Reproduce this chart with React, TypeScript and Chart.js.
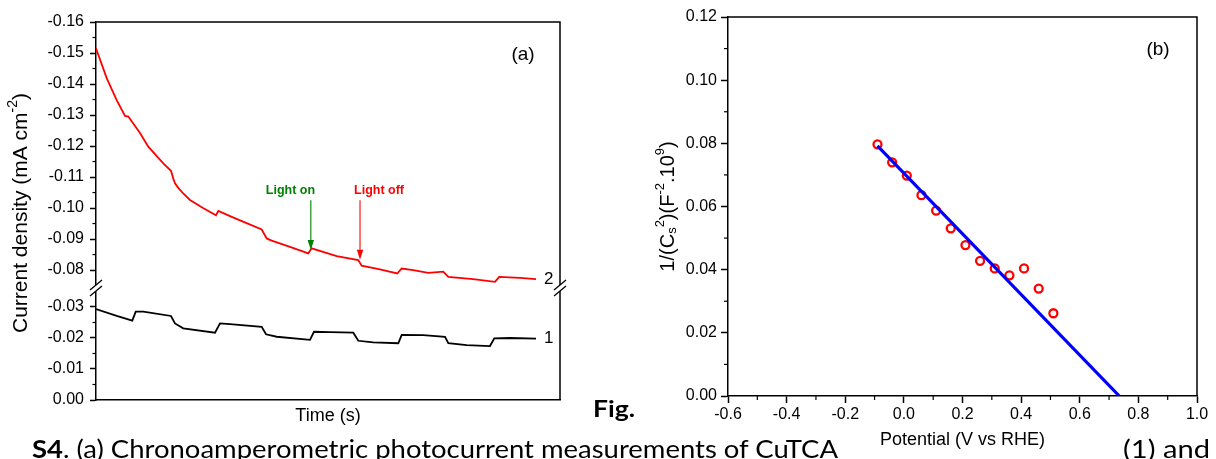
import React, { useEffect, useRef } from "react";
import { Chart, registerables } from "chart.js";

Chart.register(...registerables);

const FONT = "'Liberation Sans', Arial, Helvetica, sans-serif";

// ---------- Panel (a): chronoamperometric photocurrent ----------
const timeCurve2 = [0, 23, 44.6, 62.5, 69.6, 94.8, 112.7, 145, 161.6, 166.6, 170.2, 177.4, 188, 202.6, 230.6, 258.6, 263.6, 288.8, 316.8, 357.1, 367.9, 378.6, 418.1, 457.5, 464.8, 489.2, 518.7, 565.2, 572.5, 612, 649.3, 658.8, 683.8, 716.1, 748.4, 759.2, 813, 859.8, 869, 913.8, 948.3];
const currentCurve2 = [-0.1515, -0.1419, -0.1348, -0.1297, -0.1295, -0.1242, -0.1198, -0.1144, -0.112, -0.1095, -0.108, -0.1065, -0.1047, -0.1026, -0.1, -0.0977, -0.0991, -0.0974, -0.0956, -0.0931, -0.0902, -0.0895, -0.0875, -0.0854, -0.087, -0.0859, -0.0845, -0.0832, -0.0814, -0.0802, -0.0789, -0.0805, -0.08, -0.0791, -0.0795, -0.0778, -0.0771, -0.0762, -0.0778, -0.0775, -0.0771];
const timeCurve1 = [0, 44.6, 78.2, 85.6, 101.9, 161.6, 170.2, 188.1, 256.5, 267.2, 288.8, 357.1, 366.4, 389.4, 461.2, 469.8, 504.3, 554.5, 565.3, 597.6, 651.5, 658.8, 705.4, 752.2, 759.3, 798.9, 849.1, 858.4, 892.2, 948.3];
const currentCurve1 = [-0.0293, -0.0271, -0.0256, -0.0285, -0.0285, -0.0271, -0.0247, -0.0231, -0.0217, -0.0247, -0.0245, -0.0236, -0.0212, -0.0204, -0.0194, -0.022, -0.0219, -0.0217, -0.0191, -0.0186, -0.0183, -0.021, -0.0209, -0.0204, -0.0183, -0.0177, -0.0174, -0.0199, -0.02, -0.0198];
const curveLabels = ["2", "1"];
const yTicksA = [0, -0.01, -0.02, -0.03, -0.08, -0.09, -0.1, -0.11, -0.12, -0.13, -0.14, -0.15, -0.16];
const yMinorTicksA = [-0.005, -0.015, -0.025, -0.085, -0.095, -0.105, -0.115, -0.125, -0.135, -0.145, -0.155];
const timeMax = 1000;
const AXIS_GAP = 0.0381; // removed span of the broken axis
const BREAK_SPLIT = -0.055;
const BREAK_MARK = 0.0361; // axis position of the break symbol
const toAxisA = (v: number) => (v < BREAK_SPLIT ? -v - AXIS_GAP : -v);

const annotLabels = ["Light on", "Light off"];
const annotColors = ["#008000", "#ff0000"];
const annotTextTime = [419, 610];
const annotArrowTime = [463, 569];
const annotTipValue = [-0.0865, -0.0833];
const annotTailValue = -0.1025;
const annotTextValue = -0.1058;

// ---------- Panel (b): Mott-Schottky ----------
const potential = [-0.09, -0.04, 0.01, 0.06, 0.11, 0.16, 0.21, 0.26, 0.31, 0.36, 0.41, 0.46, 0.51];
const invCs2 = [0.0797, 0.074, 0.0698, 0.0636, 0.0587, 0.0531, 0.0478, 0.0428, 0.0404, 0.0382, 0.0404, 0.034, 0.0262];
const fitPotential = [-0.09, 0.735];
const fitInvCs2 = [0.0792, 0.0];
const xMinorB = [-0.5, -0.3, -0.1, 0.1, 0.3, 0.5, 0.7, 0.9];
const yMinorB = [0.01, 0.03, 0.05, 0.07, 0.09, 0.11];

type Seg = [string, number]; // 0 normal, 1 superscript, 2 subscript

function drawRich(ctx: CanvasRenderingContext2D, segs: Seg[], cx: number, cy: number, base: number, rotate: boolean) {
  const small = Math.round(base * 0.65);
  const fBig = `${base}px ${FONT}`;
  const fSmall = `${small}px ${FONT}`;
  let total = 0;
  const widths = segs.map(([t, k]) => {
    ctx.font = k ? fSmall : fBig;
    const w = ctx.measureText(t).width;
    total += w;
    return w;
  });
  ctx.save();
  ctx.translate(cx, cy);
  if (rotate) ctx.rotate(-Math.PI / 2);
  ctx.textBaseline = "middle";
  ctx.textAlign = "left";
  ctx.fillStyle = "#000";
  let x = -total / 2;
  segs.forEach(([t, k], i) => {
    ctx.font = k ? fSmall : fBig;
    const dy = k === 1 ? -base * 0.36 : k === 2 ? base * 0.24 : 0;
    ctx.fillText(t, x, dy);
    x += widths[i];
  });
  ctx.restore();
}

const panelAPlugin = {
  id: "panelA",
  afterDraw(chart: any) {
    const { ctx, chartArea: ca, scales } = chart;
    const x = scales.x;
    const y = scales.y;
    ctx.save();
    ctx.strokeStyle = "#000";
    ctx.lineWidth = 1.5;
    ctx.beginPath();
    ctx.moveTo(ca.left, ca.top);
    ctx.lineTo(ca.right, ca.top);
    ctx.lineTo(ca.right, ca.bottom);
    ctx.stroke();
    // minor ticks
    ctx.lineWidth = 1.2;
    yMinorTicksA.forEach((v) => {
      const py = y.getPixelForValue(toAxisA(v));
      ctx.beginPath();
      ctx.moveTo(ca.left - 3.5, py);
      ctx.lineTo(ca.left, py);
      ctx.stroke();
    });
    // axis break
    const by = y.getPixelForValue(BREAK_MARK);
    [ca.left, ca.right].forEach((bx: number) => {
      ctx.fillStyle = "#fff";
      ctx.fillRect(bx - 2, by - 3, 4, 6);
      ctx.strokeStyle = "#000";
      ctx.lineWidth = 1.3;
      ctx.beginPath();
      ctx.moveTo(bx - 6, by + 2);
      ctx.lineTo(bx + 6, by - 8);
      ctx.moveTo(bx - 6, by + 8);
      ctx.lineTo(bx + 6, by - 2);
      ctx.stroke();
    });
    // curve labels
    ctx.fillStyle = "#000";
    ctx.font = `17px ${FONT}`;
    ctx.textAlign = "left";
    ctx.textBaseline = "middle";
    const ends = [
      [timeCurve2[timeCurve2.length - 1], currentCurve2[currentCurve2.length - 1]],
      [timeCurve1[timeCurve1.length - 1], currentCurve1[currentCurve1.length - 1]],
    ];
    ends.forEach(([t, v], i) => {
      ctx.fillText(curveLabels[i], x.getPixelForValue(t) + 8, y.getPixelForValue(toAxisA(v)));
    });
    // panel label
    ctx.font = `19px ${FONT}`;
    ctx.textAlign = "center";
    ctx.fillText("(a)", ca.right - 37, ca.top + 33);
    // annotations
    annotLabels.forEach((lab, i) => {
      const c = annotColors[i];
      ctx.fillStyle = c;
      ctx.strokeStyle = c;
      ctx.font = `bold 12.5px ${FONT}`;
      ctx.textAlign = "center";
      ctx.fillText(lab, x.getPixelForValue(annotTextTime[i]), y.getPixelForValue(toAxisA(annotTextValue)));
      const ax = x.getPixelForValue(annotArrowTime[i]);
      const y0 = y.getPixelForValue(toAxisA(annotTailValue));
      const y1 = y.getPixelForValue(toAxisA(annotTipValue[i]));
      ctx.lineWidth = 1.1;
      ctx.beginPath();
      ctx.moveTo(ax, y0);
      ctx.lineTo(ax, y1 - 8);
      ctx.stroke();
      ctx.beginPath();
      ctx.moveTo(ax - 3.2, y1 - 10);
      ctx.lineTo(ax + 3.2, y1 - 10);
      ctx.lineTo(ax, y1);
      ctx.closePath();
      ctx.fill();
    });
    ctx.restore();
    drawRich(ctx, [["Current density (mA cm", 0], ["-2", 1], [")", 0]], 21, (ca.top + ca.bottom) / 2 + 2, 21, true);
  },
};

const panelBPlugin = {
  id: "panelB",
  afterDraw(chart: any) {
    const { ctx, chartArea: ca, scales } = chart;
    const x = scales.x;
    const y = scales.y;
    ctx.save();
    ctx.strokeStyle = "#000";
    ctx.lineWidth = 1.5;
    ctx.beginPath();
    ctx.moveTo(ca.left, ca.top);
    ctx.lineTo(ca.right, ca.top);
    ctx.lineTo(ca.right, ca.bottom);
    ctx.stroke();
    ctx.lineWidth = 1.2;
    xMinorB.forEach((v) => {
      const px = x.getPixelForValue(v);
      ctx.beginPath();
      ctx.moveTo(px, ca.bottom);
      ctx.lineTo(px, ca.bottom + 4);
      ctx.stroke();
    });
    yMinorB.forEach((v) => {
      const py = y.getPixelForValue(v);
      ctx.beginPath();
      ctx.moveTo(ca.left - 4, py);
      ctx.lineTo(ca.left, py);
      ctx.stroke();
    });
    ctx.fillStyle = "#000";
    ctx.font = `19px ${FONT}`;
    ctx.textAlign = "center";
    ctx.textBaseline = "middle";
    ctx.fillText("(b)", ca.right - 39, ca.top + 33);
    ctx.restore();
    drawRich(
      ctx,
      [["1/(C", 0], ["s", 2], ["2", 1], [")(F", 0], ["-2", 1], [".10", 0], ["9", 1], [")", 0]],
      68,
      (ca.top + ca.bottom) / 2,
      20,
      true
    );
  },
};

const tickFont = { family: FONT, size: 16 };

export default function App() {
  const refA = useRef<HTMLCanvasElement>(null);
  const refB = useRef<HTMLCanvasElement>(null);

  useEffect(() => {
    const chartA = new Chart(refA.current as HTMLCanvasElement, {
      type: "line",
      data: {
        datasets: [
          {
            data: timeCurve2.map((t, i) => ({ x: t, y: toAxisA(currentCurve2[i]) })),
            borderColor: "#ff0000",
            borderWidth: 1.8,
            pointRadius: 0,
            tension: 0,
            fill: false,
          },
          {
            data: timeCurve1.map((t, i) => ({ x: t, y: toAxisA(currentCurve1[i]) })),
            borderColor: "#000000",
            borderWidth: 1.8,
            pointRadius: 0,
            tension: 0,
            fill: false,
          },
        ],
      },
      options: {
        animation: false,
        responsive: false,
        events: [],
        layout: { padding: { left: 0, top: 22, right: 40, bottom: 0 } },
        plugins: { legend: { display: false }, tooltip: { enabled: false } },
        scales: {
          x: {
            type: "linear",
            min: 0,
            max: timeMax,
            afterFit: (s: any) => {
              s.height = 30;
            },
            ticks: { display: false },
            grid: { drawOnChartArea: false, drawTicks: false },
            border: { display: true, color: "#000", width: 1.5 },
            title: {
              display: true,
              text: "Time (s)",
              color: "#000",
              font: { family: FONT, size: 18 },
              padding: { top: 0, bottom: 3 },
            },
          },
          y: {
            type: "linear",
            min: 0,
            max: 0.16 - AXIS_GAP,
            afterFit: (s: any) => {
              s.width = 96;
            },
            afterBuildTicks: (s: any) => {
              s.ticks = yTicksA.map((v) => ({ value: toAxisA(v) }));
            },
            ticks: {
              autoSkip: false,
              color: "#000",
              font: tickFont,
              padding: 6,
              callback: (_v: any, i: number) => (yTicksA[i] === 0 ? "0.00" : yTicksA[i].toFixed(2)),
            },
            grid: { drawOnChartArea: false, drawTicks: true, tickLength: 6, tickColor: "#000", tickWidth: 1.5 },
            border: { display: true, color: "#000", width: 1.5 },
          },
        },
      },
      plugins: [panelAPlugin],
    } as any);

    const chartB = new Chart(refB.current as HTMLCanvasElement, {
      type: "scatter",
      data: {
        datasets: [
          {
            data: fitPotential.map((p, i) => ({ x: p, y: fitInvCs2[i] })),
            showLine: true,
            borderColor: "#0000ff",
            borderWidth: 3.2,
            pointRadius: 0,
            fill: false,
          },
          {
            data: potential.map((p, i) => ({ x: p, y: invCs2[i] })),
            showLine: false,
            pointRadius: 4,
            pointBorderWidth: 2.3,
            pointBorderColor: "#ff0000",
            pointBackgroundColor: "rgba(0,0,0,0)",
            borderColor: "#ff0000",
            backgroundColor: "rgba(0,0,0,0)",
          },
        ],
      },
      options: {
        animation: false,
        responsive: false,
        events: [],
        layout: { padding: { left: 0, top: 17, right: 19, bottom: 0 } },
        plugins: { legend: { display: false }, tooltip: { enabled: false } },
        scales: {
          x: {
            type: "linear",
            min: -0.6,
            max: 1.0,
            afterFit: (s: any) => {
              s.height = 63;
            },
            ticks: {
              stepSize: 0.2,
              color: "#000",
              font: tickFont,
              padding: 2,
              maxRotation: 0,
              callback: (v: any) => (Math.abs(Number(v)) < 1e-9 ? "0.0" : Number(v).toFixed(1)),
            },
            grid: { drawOnChartArea: false, drawTicks: true, tickLength: 7, tickColor: "#000", tickWidth: 1.5 },
            border: { display: true, color: "#000", width: 1.5 },
            title: {
              display: true,
              text: "Potential (V vs RHE)",
              color: "#000",
              font: { family: FONT, size: 18 },
              padding: { top: 0, bottom: 8 },
            },
          },
          y: {
            type: "linear",
            min: 0,
            max: 0.12,
            afterFit: (s: any) => {
              s.width = 128;
            },
            ticks: {
              stepSize: 0.02,
              color: "#000",
              font: tickFont,
              padding: 4,
              callback: (v: any) => (Math.abs(Number(v)) < 1e-9 ? "0.00" : Number(v).toFixed(2)),
            },
            grid: { drawOnChartArea: false, drawTicks: true, tickLength: 7, tickColor: "#000", tickWidth: 1.5 },
            border: { display: true, color: "#000", width: 1.5 },
          },
        },
      },
      plugins: [panelBPlugin],
    } as any);

    return () => {
      chartA.destroy();
      chartB.destroy();
    };
  }, []);

  return (
    <div
      style={{
        position: "fixed",
        left: 0,
        top: 0,
        width: 1216,
        height: 459,
        overflow: "hidden",
        background: "#fff",
      }}
    >
      <canvas ref={refA} width={600} height={430} style={{ position: "absolute", left: 0, top: 0, width: 600, height: 430 }} />
      <canvas ref={refB} width={616} height={459} style={{ position: "absolute", left: 600, top: 0, width: 616, height: 459 }} />
      <svg width={1216} height={459} style={{ position: "absolute", left: 0, top: 0, pointerEvents: "none" }}>
        <text x={593} y={417} fontFamily="Lato, 'Open Sans', sans-serif" fontWeight="bold" fontSize={22} textLength={42} lengthAdjust="spacingAndGlyphs" fill="#000">
          Fig.
        </text>
        <text x={32} y={458} fontFamily="Lato, 'Open Sans', sans-serif" fontSize={25} textLength={806} lengthAdjust="spacingAndGlyphs" fill="#000">
          <tspan fontWeight="bold">S4</tspan>. (a) Chronoamperometric photocurrent measurements of CuTCA
        </text>
        <text x={1123} y={458} fontFamily="Lato, 'Open Sans', sans-serif" fontSize={25} textLength={87} lengthAdjust="spacingAndGlyphs" fill="#000">
          (1) and
        </text>
      </svg>
    </div>
  );
}
